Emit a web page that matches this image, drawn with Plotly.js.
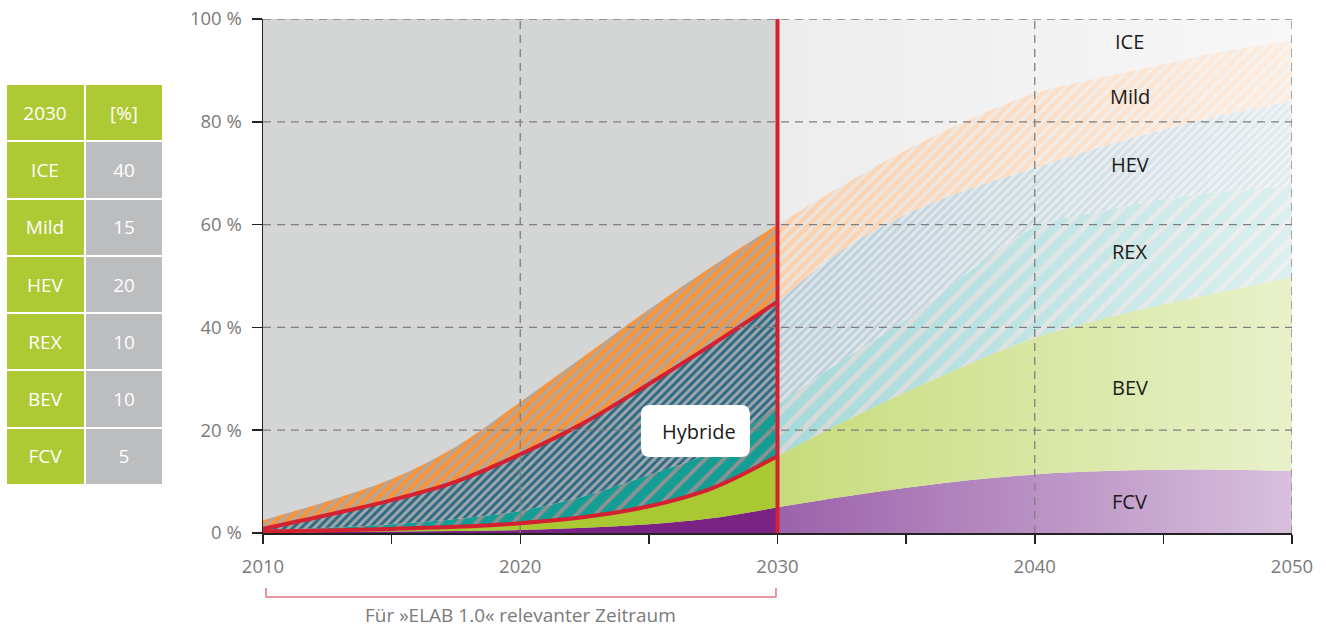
<!DOCTYPE html>
<html>
<head>
<meta charset="utf-8">
<script src="https://cdn.plot.ly/plotly-3.0.1.min.js"></script>
<style>
  html, body { margin: 0; padding: 0; background: #ffffff; }
  #chart { width: 1326px; height: 628px; }
</style>
</head>
<body>
<div id="chart"></div>
<script>
// ---------------- data ----------------
const years = [2010, 2012.5, 2015, 2017.5, 2020, 2022.5, 2025, 2027.5, 2030,
               2032.5, 2035, 2037.5, 2040, 2042.5, 2045, 2047.5, 2050];
// market shares [%] per drive technology
const FCV  = [0.1, 0.2, 0.3, 0.4, 0.6, 1.0, 1.7, 2.9, 5.0,
              7.0, 8.8, 10.3, 11.4, 12.0, 12.3, 12.3, 12.1];
const BEV  = [0.2, 0.3, 0.5, 0.8, 1.3, 2.1, 3.5, 5.9, 10.0,
              14.5, 18.7, 22.7, 26.6, 29.5, 32.2, 34.9, 37.7];
const REX  = [0.3, 0.5, 0.9, 1.5, 2.4, 4.1, 6.1, 7.2, 10.0,
              12.0, 14.0, 18.0, 21.5, 21.0, 20.5, 19.3, 17.7];
const HEV  = [0.2, 2.5, 4.7, 7.3, 11.0, 14.3, 17.7, 20.8, 20.0,
              21.5, 20.5, 16.0, 11.5, 12.5, 13.5, 15.0, 16.5];
const Mild = [1.7, 2.7, 4.1, 6.8, 10.2, 13.0, 14.5, 15.2, 15.0,
              12.5, 12.5, 13.5, 14.5, 13.5, 12.7, 12.3, 11.8];

const seriesNames = ['FCV', 'BEV', 'REX', 'HEV', 'Mild', 'ICE'];
const splitYear = 2030;
const labelYear = 2045;

const tableHeader = ['2030', '[%]'];
const tableNames  = ['ICE', 'Mild', 'HEV', 'REX', 'BEV', 'FCV'];
const tableValues = [40, 15, 20, 10, 10, 5];

const xTickVals = [2010, 2015, 2020, 2025, 2030, 2035, 2040, 2045, 2050];
const xTickText = ['2010', '', '2020', '', '2030', '', '2040', '', '2050'];
const yTickVals = [0, 20, 40, 60, 80, 100];
const yTickText = ['0 %', '20 %', '40 %', '60 %', '80 %', '100 %'];
const xGridVals = [2020, 2030, 2040, 2050];
const yGridVals = [20, 40, 60, 80, 100];

const bracketLabel = 'Für »ELAB 1.0« relevanter Zeitraum';
const hybridLabel = 'Hybride';

// ---------------- helpers ----------------
const FONT = '"Open Sans", "Noto Sans", sans-serif';
const shares = [FCV, BEV, REX, HEV, Mild];
const cum = [];
let acc = years.map(() => 0);
shares.forEach(s => { acc = acc.map((v, i) => v + s[i]); cum.push(acc.slice()); });
const zeros = years.map(() => 0);
const hundred = years.map(() => 100);
const lowers = [zeros, cum[0], cum[1], cum[2], cum[3], cum[4]];
const uppers = [cum[0], cum[1], cum[2], cum[3], cum[4], hundred];

const iSplit = years.indexOf(splitYear);
const leftIdx = years.map((_, i) => i).filter(i => i <= iSplit);
const rightIdx = years.map((_, i) => i).filter(i => i >= iSplit);
const pick = (arr, idx) => idx.map(i => arr[i]);

function band(idx, lo, hi, fillStyle) {
  const base = { mode: 'lines', hoverinfo: 'skip', showlegend: false,
                 line: { width: 0, shape: 'spline', smoothing: 1 } };
  const lower = Object.assign({}, base, { x: pick(years, idx), y: pick(lo, idx) });
  const upper = Object.assign({}, base, { x: pick(years, idx), y: pick(hi, idx), fill: 'tonexty' }, fillStyle);
  return [lower, upper];
}

const leftStyles = [
  { fillcolor: '#7b2285' },
  { fillcolor: '#a9c832' },
  { fillcolor: '#139d94', fillpattern: { shape: '/', bgcolor: '#139d94', fgcolor: '#8d9192', size: 13, solidity: 0.3 } },
  { fillcolor: '#2c6a84', fillpattern: { shape: '/', bgcolor: '#2c6a84', fgcolor: '#a1a8ab', size: 6, solidity: 0.5 } },
  { fillcolor: '#f7953e', fillpattern: { shape: '/', bgcolor: '#f7953e', fgcolor: '#a9a9a9', size: 8, solidity: 0.35 } }
];
const rightStyles = [
  { fillcolor: '#9c62aa' },
  { fillcolor: '#c7dc7b' },
  { fillcolor: '#a5d9d9', fillpattern: { shape: '/', bgcolor: '#a5d9d9', fgcolor: '#d6d8d8', size: 14, solidity: 0.35 } },
  { fillcolor: '#b3cedc', fillpattern: { shape: '/', bgcolor: '#b3cedc', fgcolor: '#e0e2e3', size: 6, solidity: 0.5 } },
  { fillcolor: '#fdd0ab', fillpattern: { shape: '/', bgcolor: '#fdd0ab', fgcolor: '#e8e4e0', size: 8, solidity: 0.4 } }
];

const traces = [];
for (let k = 0; k < 5; k++) traces.push(...band(leftIdx, lowers[k], uppers[k], leftStyles[k]));
for (let k = 0; k < 5; k++) traces.push(...band(rightIdx, lowers[k], uppers[k], rightStyles[k]));

// fading veil over the forecast part
traces.push({
  x: [splitYear, years[years.length - 1]], y: [100, 100], mode: 'lines',
  line: { width: 0 }, fill: 'tozeroy', hoverinfo: 'skip', showlegend: false,
  fillgradient: { type: 'horizontal', start: splitYear, stop: years[years.length - 1],
    colorscale: [[0, 'rgba(255,255,255,0)'], [1, 'rgba(255,255,255,0.6)']] }
});

// red boundary lines (Hybride) in the ELAB period
[cum[3], cum[1]].forEach(c => traces.push({
  x: pick(years, leftIdx), y: pick(c, leftIdx), mode: 'lines', hoverinfo: 'skip', showlegend: false,
  line: { color: '#d42030', width: 4, shape: 'spline', smoothing: 1 }
}));

// table (as heatmap on its own axes)
const tRows = [tableHeader].concat(tableNames.map((n, i) => [n, String(tableValues[i])]));
traces.push({
  type: 'heatmap', xaxis: 'x2', yaxis: 'y2',
  x: [0, 1], y: tRows.map((_, i) => i),
  z: tRows.map((_, i) => i === 0 ? [0, 0] : [0, 1]),
  text: tRows, texttemplate: '%{text}',
  textfont: { family: FONT, size: 19, color: '#ffffff' },
  colorscale: [[0, '#adc933'], [1, '#bbbdbf']], zmin: 0, zmax: 1,
  showscale: false, xgap: 2, ygap: 2, hoverinfo: 'skip'
});

// ---------------- shapes ----------------
const shapes = [];
shapes.push({ type: 'rect', xref: 'x', yref: 'y', x0: years[0], x1: splitYear, y0: 0, y1: 100,
  fillcolor: '#d4d5d5', line: { width: 0 }, layer: 'below' });
shapes.push({ type: 'rect', xref: 'x', yref: 'y', x0: splitYear, x1: years[years.length - 1], y0: 0, y1: 100,
  fillcolor: '#ededed', line: { width: 0 }, layer: 'below' });
yGridVals.forEach(v => shapes.push({ type: 'line', xref: 'x', yref: 'y', x0: years[0], x1: years[years.length - 1],
  y0: v, y1: v, line: { color: '#7f7f7f', width: 1.3, dash: '8px,6px' }, layer: 'above' }));
xGridVals.forEach(v => shapes.push({ type: 'line', xref: 'x', yref: 'y', x0: v, x1: v, y0: 0, y1: 100,
  line: { color: '#7f7f7f', width: 1.3, dash: '8px,6px' }, layer: 'above' }));
shapes.push({ type: 'line', xref: 'x', yref: 'y', x0: splitYear, x1: splitYear, y0: 0, y1: 100,
  line: { color: '#d42030', width: 4 }, layer: 'above' });
// Hybride rounded box
shapes.push({ type: 'path', xref: 'x', yref: 'y', xsizemode: 'pixel', ysizemode: 'pixel',
  xanchor: 2026.81, yanchor: 19.84,
  path: 'M -45.5,-26 L 45.5,-26 Q 54.5,-26 54.5,-17 L 54.5,17 Q 54.5,26 45.5,26 L -45.5,26 Q -54.5,26 -54.5,17 L -54.5,-17 Q -54.5,-26 -45.5,-26 Z',
  fillcolor: '#ffffff', line: { width: 0 }, layer: 'above' });
// bracket below axis
shapes.push({ type: 'path', xref: 'x', yref: 'paper',
  path: `M ${years[0] + 0.12},-0.107 L ${years[0] + 0.12},-0.1245 L ${splitYear - 0.06},-0.1245 L ${splitYear - 0.06},-0.107`,
  line: { color: '#e0767e', width: 1.5 }, layer: 'above' });

// ---------------- annotations ----------------
const li = years.indexOf(labelYear);
const annotations = seriesNames.map((n, k) => ({
  x: 2043.7, y: (lowers[k][li] + uppers[k][li]) / 2, xref: 'x', yref: 'y', text: n,
  showarrow: false, xanchor: 'center', yanchor: 'middle',
  font: { family: FONT, size: 20, color: '#1a1a1a' }
}));
annotations.push({ x: 2026.95, y: 19.84, xref: 'x', yref: 'y', text: hybridLabel, showarrow: false,
  xanchor: 'center', yanchor: 'middle', font: { family: FONT, size: 20, color: '#1a1a1a' } });
annotations.push({ x: (years[0] + splitYear) / 2, y: -0.159, xref: 'x', yref: 'paper', text: bracketLabel,
  showarrow: false, xanchor: 'center', yanchor: 'middle', borderpad: 0,
  font: { family: FONT, size: 19, color: '#7a7a7a' } });

// ---------------- layout ----------------
const W = 1326, H = 628, mL = 0, mR = 34, mT = 19, mB = 95;
const pw = W - mL - mR, ph = H - mT - mB;
const layout = {
  width: W, height: H,
  margin: { l: mL, r: mR, t: mT, b: mB, pad: 0 },
  paper_bgcolor: '#ffffff', plot_bgcolor: '#ffffff',
  font: { family: FONT, size: 18, color: '#7a7a7a' },
  showlegend: false,
  xaxis: { domain: [263 / pw, 1], range: [years[0], years[years.length - 1]],
    showgrid: false, zeroline: false, showline: true, linecolor: '#222222', linewidth: 2,
    ticks: 'outside', ticklen: 9, tickwidth: 1.5, tickcolor: '#222222',
    tickvals: xTickVals, ticktext: xTickText, ticklabelstandoff: 7,
    tickfont: { family: FONT, size: 18.5, color: '#7a7a7a' }, layer: 'above traces', fixedrange: true },
  yaxis: { domain: [0, 1], range: [0, 100],
    showgrid: false, zeroline: false, showline: true, linecolor: '#222222', linewidth: 1.5,
    ticks: 'outside', ticklen: 10, tickwidth: 1.5, tickcolor: '#222222',
    tickvals: yTickVals, ticktext: yTickText, ticklabelstandoff: 6,
    tickfont: { family: FONT, size: 18.5, color: '#7a7a7a' }, layer: 'above traces', fixedrange: true },
  xaxis2: { domain: [6 / pw, 163 / pw], range: [-0.5, 1.5], visible: false, anchor: 'y2', fixedrange: true },
  yaxis2: { domain: [(533 - 485) / ph, (533 - 84) / ph], range: [6.5, -0.5], visible: false, anchor: 'x2', fixedrange: true },
  shapes: shapes,
  annotations: annotations
};

Plotly.newPlot('chart', traces, layout, { displayModeBar: false, staticPlot: true });
</script>
</body>
</html>
